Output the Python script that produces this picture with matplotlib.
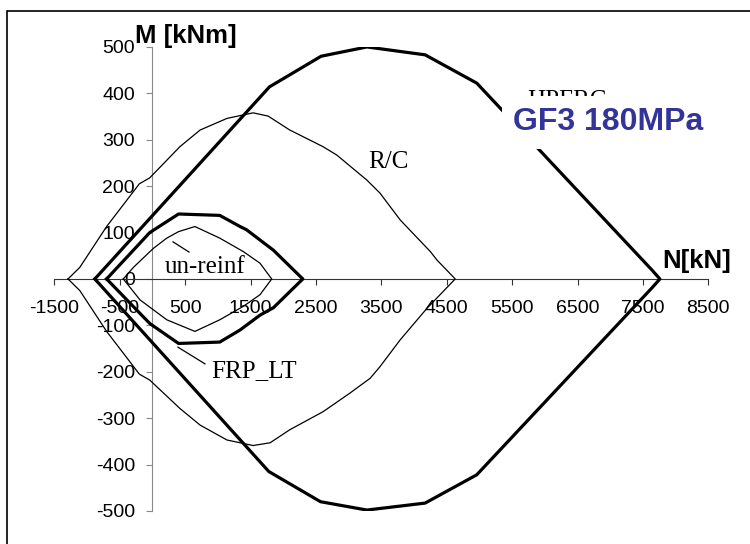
import matplotlib
matplotlib.use('Agg')
import matplotlib.pyplot as plt
from matplotlib.patches import Rectangle

plt.rcParams['axes.unicode_minus'] = False

# Interaction diagrams, N [kN] vs M [kNm]; each loop goes along the upper
# branch left to right, then back along the lower branch
hpfrc_n = [-880, 1790, 2580, 3280, 4170, 4960, 7640, 7760,
           7640, 4960, 4170, 3280, 2570, 1780, -880]
hpfrc_m = [0, 414, 480, 500, 483, 422, 19, 0,
           -19, -422, -483, -498, -480, -415, 0]

rc_n = [-1290, -1110, -700, -200, -40, 420, 730, 1140, 1540, 1770, 2100,
        2610, 2820, 3280, 3480, 3790, 4250, 4350, 4630,
        4350, 4200, 3790, 3480, 3330, 3020, 2610, 2100, 1800, 1540, 1140,
        730, 420, -40, -200, -700, -1110, -1290]
rc_m = [0, 25, 113, 205, 218, 285, 321, 346, 358, 351, 321,
        285, 267, 213, 185, 127, 59, 41, 0,
        -41, -63, -131, -189, -214, -246, -286, -325, -353, -359, -347,
        -315, -279, -218, -205, -113, -25, 0]

frp_n = [-700, -40, 400, 1030, 1340, 1440, 1850, 2300,
         1850, 1645, 1340, 1030, 400, -40, -700]
frp_m = [0, 100, 140, 137, 113, 106, 62, 0,
         -62, -78, -110, -136, -139, -96, 0]

unr_n = [-445, -290, 15, 220, 400, 650, 1030, 1390, 1645, 1824,
         1645, 1390, 1030, 650, 220, -190, -445]
unr_m = [0, 25, 66, 88, 102, 113, 88, 59, 34, 0,
         -34, -59, -88, -113, -88, -45, 0]

x_ticks = list(range(-1500, 8501, 1000))
y_ticks = list(range(-500, 501, 100))

fig = plt.figure(figsize=(7.5, 5.44), dpi=100)
ax = fig.add_axes([0.0724, 0.0607, 0.872, 0.853])

ax.plot(hpfrc_n, hpfrc_m, color='black', lw=2.3, zorder=3)
ax.plot(rc_n, rc_m, color='black', lw=0.9, zorder=3)
ax.plot(frp_n, frp_m, color='black', lw=2.3, zorder=3)
ax.plot(unr_n, unr_m, color='black', lw=0.9, zorder=3)

# leader lines for the labels
ax.plot([391, 804], [-147, -183], color='black', lw=0.9)
ax.plot([315, 560], [80, 58], color='black', lw=0.9)

ax.set_xlim(-1500, 8500)
ax.set_ylim(-500, 500)
ax.spines['left'].set_position(('data', 0))
ax.spines['bottom'].set_position(('data', 0))
ax.spines['top'].set_visible(False)
ax.spines['right'].set_visible(False)
ax.spines['left'].set_color('#888888')
ax.spines['bottom'].set_color('#333333')
ax.set_xticks(x_ticks)
ax.set_yticks(y_ticks)
ax.tick_params(axis='x', direction='out', length=4.5, color='#333333', pad=11)
ax.tick_params(axis='y', direction='out', length=4.5, color='#888888', pad=8)
for lab in ax.get_xticklabels() + ax.get_yticklabels():
    lab.set_fontfamily('Liberation Sans')
    lab.set_fontsize(14)
ax.patch.set_visible(False)

serif = 'Liberation Serif'
ax.text(3295, 239, 'R/C', family=serif, fontsize=18)
ax.text(193, 13, 'un-reinf', family=serif, fontsize=18)
ax.text(896, -211, 'FRP_LT', family=serif, fontsize=18)
# partly hidden under the white box, as in the original
ax.text(5728, 370, 'HPFRC', family=serif, fontsize=18, zorder=4)
ax.text(6966, 320, 'GF3 180MPa', family='Liberation Sans', fontweight='bold',
        fontsize=23, color='#333399', ha='center', va='baseline', zorder=6,
        bbox=dict(facecolor='white', edgecolor='none', pad=8))

ax.text(-268, 509, 'M [kNm]', family='Liberation Sans', fontweight='bold',
        fontsize=18.5, va='baseline')
ax.text(7791, 24, 'N[kN]', family='Liberation Sans', fontweight='bold',
        fontsize=18.5, va='baseline')

fig.patches.append(Rectangle((7 / 750, -0.05), 1.0, (544 - 11) / 544 + 0.05,
                             transform=fig.transFigure, fill=False,
                             edgecolor='black', lw=1.2))

fig.savefig('out.png', dpi=100)
